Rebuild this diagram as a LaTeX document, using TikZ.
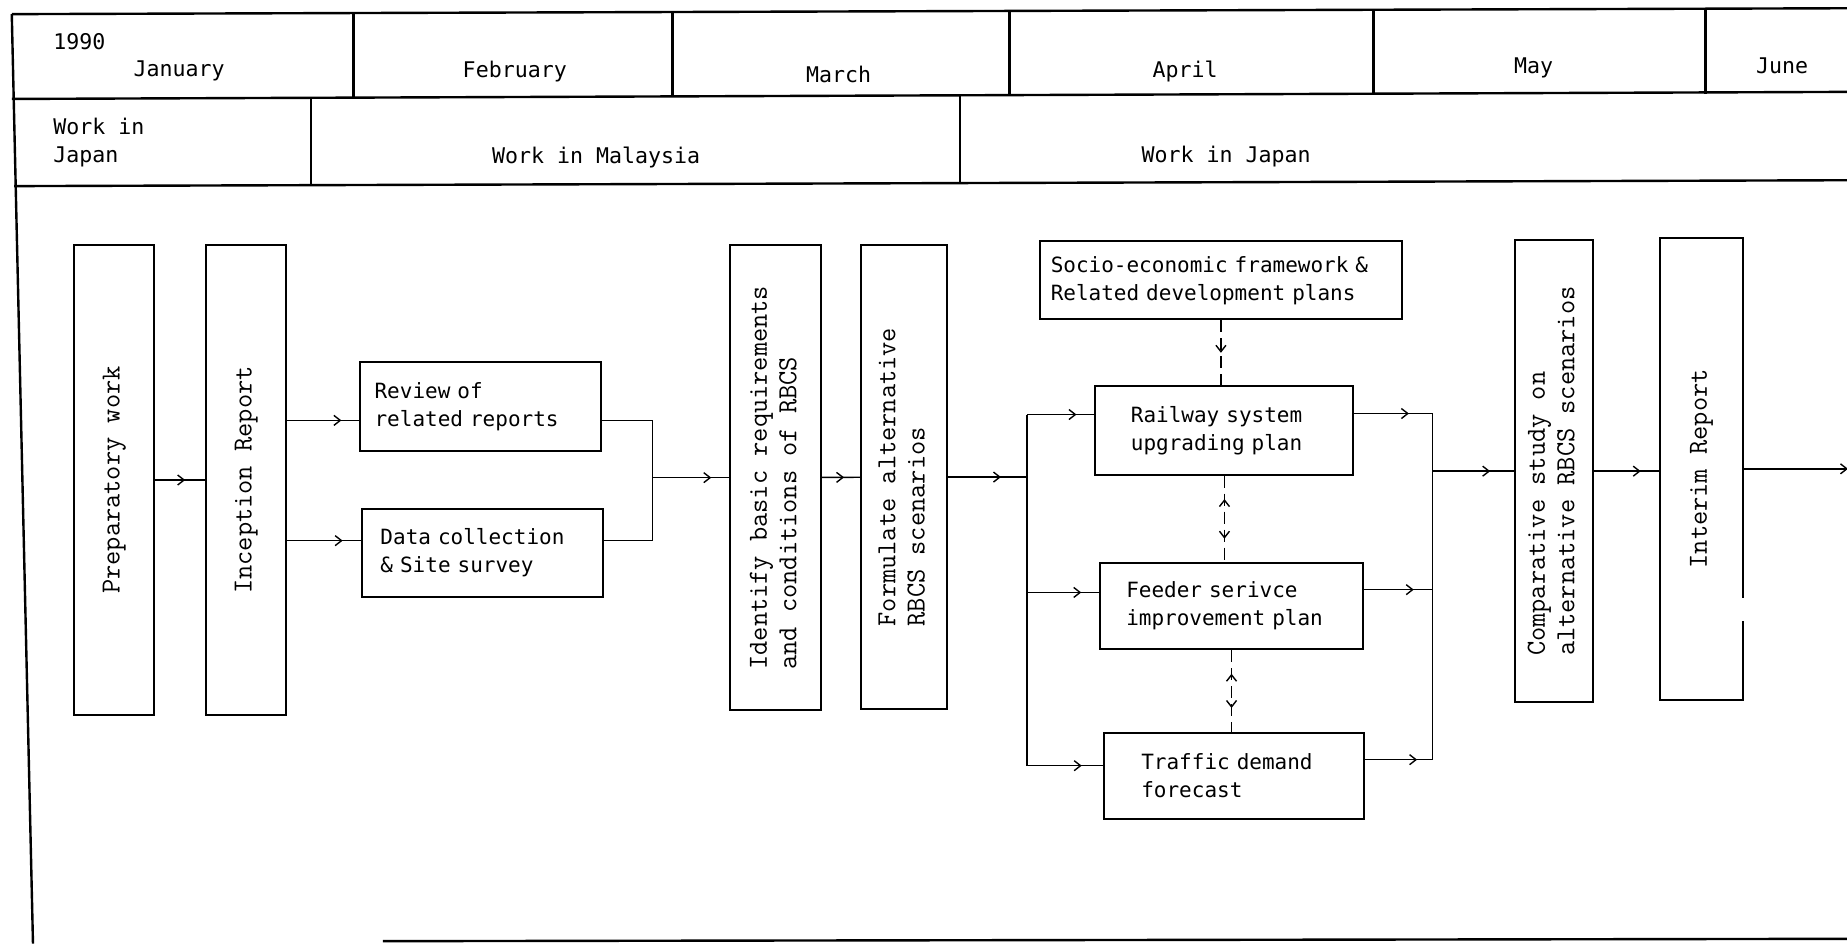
\documentclass[tikz,border=0pt]{standalone}
\usepackage{fontspec}
\newfontfamily\dotfont{DejaVu Sans Mono}
\usetikzlibrary{arrows.meta,decorations.markings}
\begin{document}
\begin{tikzpicture}[x=0.589pt,y=-0.589pt,
  every node/.style={inner sep=0pt},
  gridline/.style={line width=1.2pt},
  boxframe/.style={draw, line width=1pt, rectangle},
  hbox/.style={boxframe, font=\dotfont\fontsize{10.5}{14}\selectfont, align=left, inner ysep=0pt},
  vbox/.style={boxframe, font=\ttfamily\fontsize{13.8}{14.7}\selectfont},
  headtext/.style={font=\dotfont\fontsize{10.8}{14}\selectfont},
  conn/.style={line width=0.7pt},
  dconn/.style={conn, dash pattern=on 6pt off 3pt},
  midtip/.style={postaction={decoration={markings, mark=at position #1 with {\arrow{Straight Barb[length=3.2pt,width=5pt]}}}, decorate}},
  midtip/.default=-9pt,
  midback/.style={postaction={decoration={markings, mark=at position #1 with {\arrowreversed{Straight Barb[length=3.2pt,width=5pt]}}}, decorate}},
]
\useasboundingbox (0,0) rectangle (1568,801);

% schedule table
\draw[gridline] (10,12) -- (1568,7);
\draw[gridline] (10,84) -- (1568,78);
\draw[gridline] (12,158) -- (1568,153);
\draw[gridline] (10,12) -- (28,801);
\draw[gridline] (325,799) -- (1568,797);
\foreach \x/\a/\b in {300/11/83,571/10/82,857/9/81,1166/8/80,1448/7.4/79.4}
  \draw[gridline] (\x,\a) -- (\x,\b);
\foreach \x/\a/\b in {264/83/157,815/81/155}
  \draw[gridline] (\x,\a) -- (\x,\b);

\node[headtext, anchor=west] (year) at (45,35) {1990};
\node[headtext] (jan) at (152,60) {January};
\node[headtext] (feb) at (437,61) {February};
\node[headtext] (mar) at (712,63) {March};
\node[headtext] (apr) at (1006,61) {April};
\node[headtext] (may) at (1302,58) {May};
\node[headtext] (jun) at (1513,56) {June};
\node[headtext, anchor=west, align=left] (wjap1) at (45,121) {Work in\\Japan};
\node[headtext] (wmal) at (506,134) {Work in Malaysia};
\node[headtext] (wjap2) at (1041,133) {Work in Japan};

% work steps
\node[vbox, minimum width=40pt, minimum height=235pt] (prep) at (97,407.5) {\rotatebox{90}{Preparatory work}};
\node[vbox, minimum width=40pt, minimum height=235pt] (incep) at (209,407.5) {\rotatebox{90}{Inception Report}};
\node[hbox, text width=106pt, inner xsep=7.1pt, minimum height=44.8pt] (review) at (408,345) {Review of\\related reports};
\node[hbox, text width=101.9pt, inner xsep=9.4pt, minimum height=44.2pt] (data) at (409.5,469.5) {Data collection\\\& Site survey};
\node[vbox, minimum width=45.4pt, minimum height=232.7pt] (ident) at (658.5,405.5) {\rotatebox{90}{\begin{tabular}{@{}l@{}}Identify basic requirements\\and conditions of RBCS\end{tabular}}};
\node[vbox, minimum width=43pt, minimum height=232pt] (form) at (767.5,405) {\rotatebox{90}{\begin{tabular}{@{}l@{}}Formulate alternative\\RBCS scenarios\end{tabular}}};
\node[hbox, text width=170.2pt, inner xsep=5.3pt, minimum height=38.9pt] (socio) at (1036.5,238) {Socio-economic framework \&\\Related development plans};
\node[hbox, text width=93.6pt, inner xsep=17.7pt, minimum height=44.2pt] (rail) at (1039.5,365.5) {Railway system\\upgrading plan};
\node[hbox, text width=105.3pt, inner xsep=13pt, minimum height=43pt] (feeder) at (1045.5,514.5) {Feeder serivce\\improvement plan};
\node[hbox, text width=92.6pt, inner xsep=18.8pt, minimum height=43pt] (traffic) at (1047.5,658.5) {Traffic demand\\forecast};
\node[vbox, minimum width=38.9pt, minimum height=230.9pt] (comp) at (1319,400) {\rotatebox{90}{\begin{tabular}{@{}l@{}}Comparative study on\\alternative RBCS scenarios\end{tabular}}};
\node[vbox, minimum width=41.8pt, minimum height=230.9pt] (interim) at (1444.5,398) {\rotatebox{90}{Interim Report}};
% break in the right edge of the interim report box
\fill[white] ([xshift=-1.5pt,yshift=-64.8pt]interim.east) rectangle ([xshift=1.5pt,yshift=-76pt]interim.east);

% junction points
\path (ident.west) ++(-65,0) coordinate (jn);
\path (form.east) ++(67,0) coordinate (lb);
\path (comp.west) ++(-69,0) coordinate (rb);
\path (interim.east) ++(88,0) coordinate (next);
\coordinate (revin) at ([yshift=-7pt]review.west);
\coordinate (revout) at ([yshift=-7pt]review.east);
\coordinate (datin) at ([yshift=6.2pt]data.west);
\coordinate (datout) at ([yshift=6.2pt]data.east);
\coordinate (railin) at ([yshift=8pt]rail.west);
\coordinate (feedin) at ([yshift=6.8pt]feeder.west);
\coordinate (trafin) at ([yshift=5pt]traffic.west);
\coordinate (railout) at ([yshift=8.5pt]rail.east);
\coordinate (feedout) at ([yshift=8.2pt]feeder.east);
\coordinate (trafout) at ([yshift=8pt]traffic.east);

% flow connectors
\draw[conn, midtip=-10pt] (prep) -- (incep);
\draw[conn, midtip=-9pt] (revin -| incep.east) -- (revin);
\draw[conn, midtip=-9pt] (datin -| incep.east) -- (datin);
\draw[conn] (revout) -| (jn) |- (datout);
\draw[conn, midtip=-9pt] (jn) -- (ident);
\draw[conn, midtip=-8pt] (ident) -- (form);
\draw[conn, midtip=-13pt] (form) -- (lb);
\draw[conn] (railin -| lb) -- (trafin -| lb);
\draw[conn, midtip=-9pt] (railin -| lb) -- (railin);
\draw[conn, midtip=-9pt] (feedin -| lb) -- (feedin);
\draw[conn, midtip=-10.5pt] (trafin -| lb) -- (trafin);
\draw[conn] (railout -| rb) -- (trafout -| rb);
\draw[conn, midtip=-11.8pt] (railout) -- (railout -| rb);
\draw[conn, midtip=-9.4pt] (feedout) -- (feedout -| rb);
\draw[conn, midtip=-7.7pt] (trafout) -- (trafout -| rb);
\draw[conn, midtip=-11.8pt] (rb) -- (comp);
\draw[conn, midtip=-9pt] (comp.east) -- (comp.east -| interim.west);
\draw[conn, -{Straight Barb[length=3.2pt,width=5pt]}] (interim) -- (next);

% dashed links between the planning studies
\draw[dconn, midtip=0.5] (socio) -- (socio.south |- rail.north);
\draw[dconn, midback=0.27, midtip=0.73] (rail.south) -- (rail.south |- feeder.north);
\draw[dconn, midback=0.29, midtip=0.71] (feeder.south) -- (feeder.south |- traffic.north);
\end{tikzpicture}
\end{document}
